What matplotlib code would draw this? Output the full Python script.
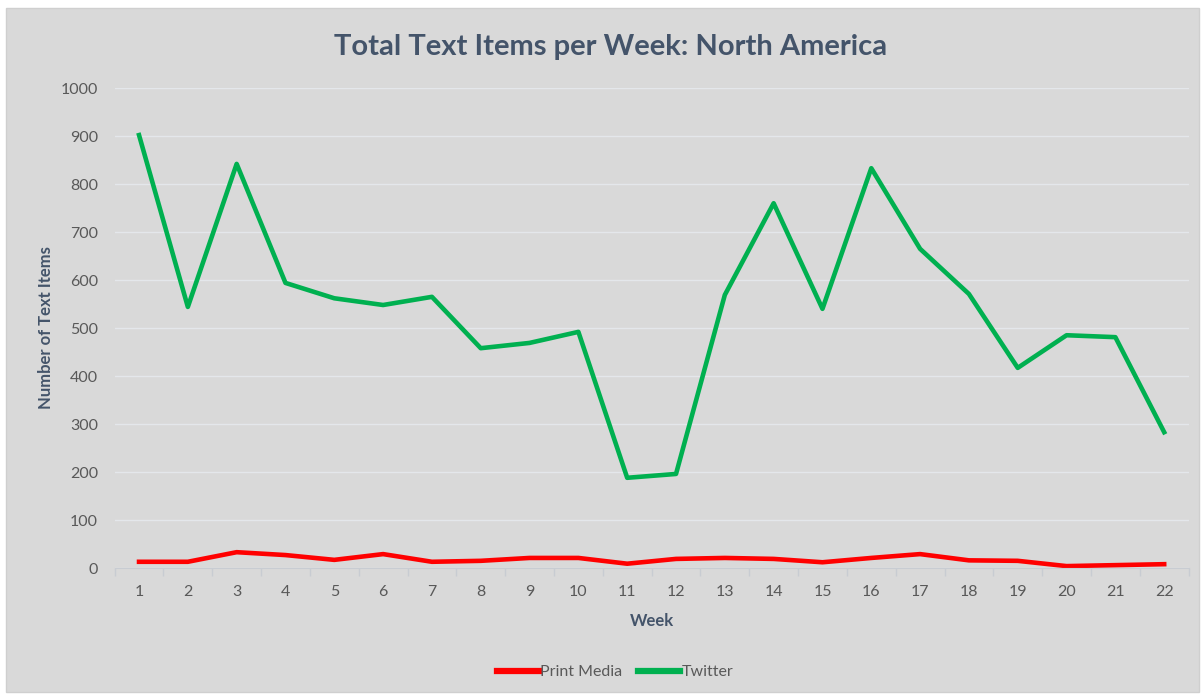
import matplotlib.pyplot as plt
from matplotlib.patches import Rectangle
import numpy as np

# weekly counts
weeks = list(range(1, 23))
print_media = [13, 13, 33, 27, 17, 29, 13, 15, 21, 21, 9, 19, 21, 19, 12, 21, 29, 16, 15, 4, 6, 8]
twitter = [902, 544, 842, 594, 562, 548, 565, 458, 469, 492, 188, 196,
           569, 760, 540, 833, 665, 571, 417, 485, 481, 283]

txt = "#44546a"
plt.rcParams['font.family'] = ['Lato', 'DejaVu Sans']

fig = plt.figure(figsize=(12.04, 6.95), dpi=100)
fig.patch.set_facecolor("white")
# gray chart area
fig.patches.append(Rectangle((6/1204, 3/695), 1193/1204, 684/695, transform=fig.transFigure,
                             facecolor="#d9d9d9", edgecolor="#cfcfcf", lw=1, zorder=-10))

ax = fig.add_axes([0.0952, 0.1827, 0.892, 0.6906])
ax.set_facecolor("none")

ax.plot(weeks, print_media, color="#ff0000", lw=3.3, label="Print Media", solid_joinstyle="round")
ax.plot(weeks, twitter, color="#00b050", lw=3.3, label="Twitter", solid_joinstyle="round")

ax.set_xlim(0.5, 22.5)
ax.set_ylim(0, 1000)
ax.set_yticks(np.arange(0, 1001, 100))
ax.set_xticks(weeks)
ax.set_xticks(np.arange(0.5, 23, 1), minor=True)
ax.tick_params(axis="x", which="major", length=0, pad=12, labelsize=11.5, labelcolor="#595959")
ax.tick_params(axis="x", which="minor", length=6, color="#c8ccd2", width=1)
ax.tick_params(axis="y", length=0, pad=12, labelsize=11.5, labelcolor="#595959")

ax.grid(axis="y", color="#e4e7eb", lw=1)
ax.set_axisbelow(True)
for s in ["top", "right", "left"]:
    ax.spines[s].set_visible(False)
ax.spines["bottom"].set_color("#c8ccd2")

ax.set_xlabel("Week", fontsize=12, fontweight="bold", color=txt, labelpad=10)
ax.set_ylabel("Number of Text Items", fontsize=12, fontweight="bold", color=txt, labelpad=5)
fig.text(0.507, 0.933, "Total Text Items per Week: North America", ha="center", va="center",
         fontsize=21, fontweight="bold", color=txt)

leg = fig.legend(loc="center", bbox_to_anchor=(0.511, 0.033), ncol=2, frameon=False,
                 fontsize=11.5, labelcolor="#595959", handlelength=2.6, handletextpad=0.1,
                 columnspacing=1.0)
for h in leg.get_lines():
    h.set_linewidth(4.5)

plt.savefig("out.png", dpi=100)
